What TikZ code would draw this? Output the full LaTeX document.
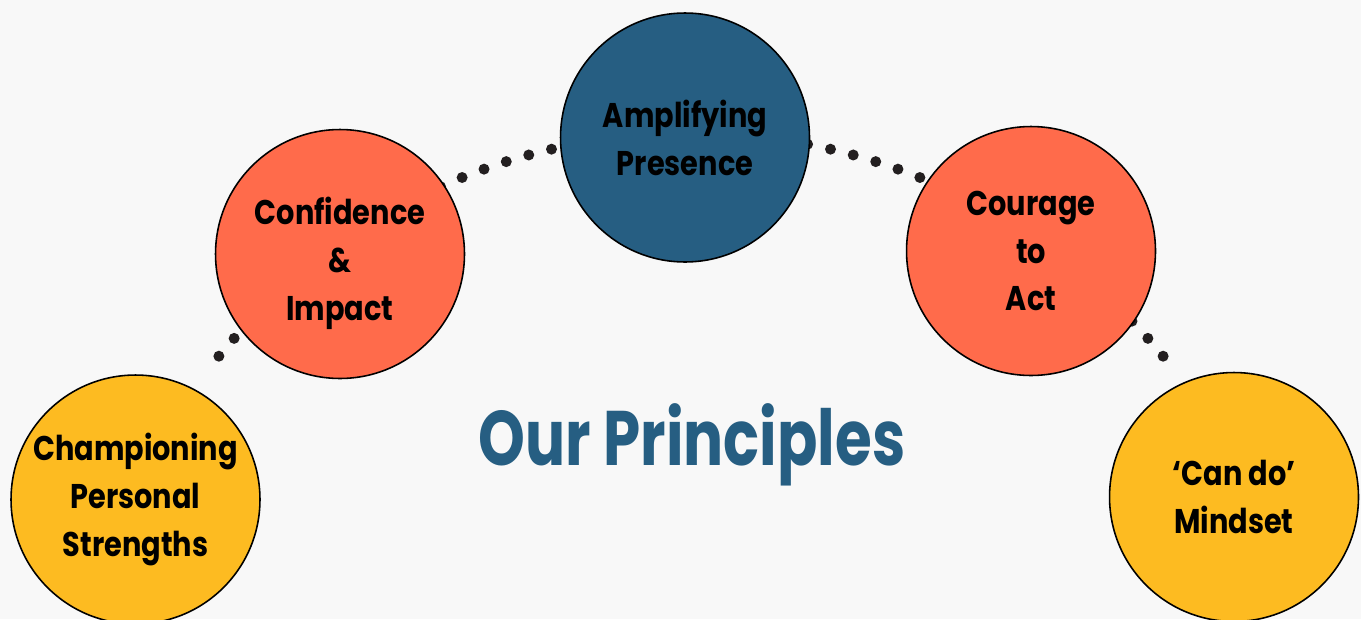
\documentclass[tikz,border=0pt]{standalone}
\usepackage{fontspec}
\setmainfont{Poppins}[FakeStretch=0.84]
\newfontfamily\titlefont{Poppins}[FakeStretch=0.77]
\definecolor{bgGray}{HTML}{F8F8F8}
\definecolor{coral}{HTML}{FF6B4B}
\definecolor{navy}{HTML}{265E82}
\definecolor{amber}{HTML}{FDBB21}
\definecolor{dotGray}{HTML}{231F20}

\begin{document}
\begin{tikzpicture}[x=0.02cm, y=-0.02cm,
  principle/.style={circle, draw=black, line width=0.9pt, minimum size=4.98cm, inner sep=0pt,
    align=center, text=black, font=\bfseries\fontsize{19.5}{27.3}\selectfont}]
% Canvas
\fill[bgGray] (0,0) rectangle (1361,619);
\useasboundingbox (0,0) rectangle (1361,619);

% Dotted arc behind the circles
\foreach \k in {0,...,46} {
    \pgfmathsetmacro{\ang}{140.6-2.2*\k}
    \fill[dotGray] ({691+611*cos(\ang)},{744-611*sin(\ang)}) circle (0.11cm);
}

% Principles
\node[principle, fill=amber] (champ) at (135.5,499.5) {Championing\\Personal\\Strengths};
\node[principle, fill=coral] (conf) at (340,254) {\rule{0pt}{26pt}Confidence\\\&\\Impact};
\node[principle, fill=navy] (ampl) at (685,137.5) {Amplifying\\Presence};
\node[principle, fill=coral] (cour) at (1031,251) {Courage\\to\\Act};
\node[principle, fill=amber] (cando) at (1234,497) {‘Can do’\\Mindset};

% Title
\node[anchor=base, text=navy, font=\titlefont\bfseries\fontsize{44}{44}\selectfont] (title) at (692,465) {Our Principles};
\end{tikzpicture}
\end{document}
